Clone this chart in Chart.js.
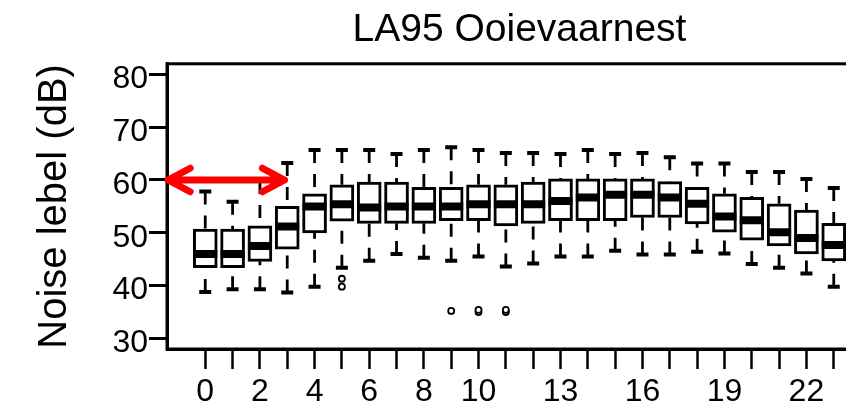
<!DOCTYPE html>
<html>
<head>
<meta charset="utf-8">
<title>LA95 Ooievaarnest</title>
<script src="https://cdn.jsdelivr.net/npm/chart.js@4.4.1/dist/chart.umd.min.js"></script>
<style>
  html, body { margin: 0; padding: 0; background: #fff; overflow: hidden; }
  #wrap { width: 846px; height: 406px; overflow: hidden; }
  #chart { display: block; }
</style>
</head>
<body>
<div id="wrap"><canvas id="chart" width="872" height="406"></canvas></div>
<script>
// hourly LA95 distribution, one box per hour of the day
const hours = [0, 1, 2, 3, 4, 5, 6, 7, 8, 9, 10, 11, 12, 13, 14, 15, 16, 17, 18, 19, 20, 21, 22, 23];
const hourLabels = ['0', '', '2', '', '4', '', '6', '', '8', '', '10', '', '', '13', '', '', '16', '', '', '19', '', '', '22', ''];

const whiskerHigh = [57.8, 55.9, 59.8, 63.2, 65.7, 65.7, 65.7, 64.9, 65.7, 66.2, 65.7, 65.1,
                     65.1, 64.9, 65.7, 64.9, 65.1, 64.3, 63.1, 63.1, 61.5, 61.5, 60.2, 58.5];
const boxHigh = [50.7, 50.7, 51.3, 55.0, 57.4, 59.1, 59.6, 59.6, 58.6, 58.6, 59.1, 59.1,
                 59.6, 60.2, 60.2, 60.2, 60.2, 59.7, 58.6, 57.4, 56.7, 55.5, 54.3, 51.8];
const medians = [46.0, 46.0, 47.5, 51.2, 55.0, 55.4, 54.8, 55.0, 55.0, 55.0, 55.4, 55.4,
                 55.4, 56.0, 56.7, 57.2, 57.2, 56.7, 55.5, 53.1, 52.4, 50.1, 49.0, 47.7];
const boxLow = [43.4, 43.4, 44.6, 46.9, 50.0, 52.2, 51.8, 51.8, 51.8, 52.3, 52.3, 51.3,
                51.8, 52.3, 52.3, 52.3, 52.9, 52.9, 51.7, 50.1, 48.6, 47.5, 46.0, 44.7];
const whiskerLow = [38.8, 39.3, 39.3, 38.7, 39.8, 43.4, 44.7, 46.0, 45.3, 44.7, 45.5, 43.6,
                    44.2, 45.5, 45.5, 46.6, 45.9, 45.9, 46.4, 46.1, 44.1, 43.4, 42.3, 39.8];

const outlierHours = [5, 5, 9, 10, 10, 11, 11];
const outlierValues = [41.3, 39.8, 35.2, 35.0, 35.4, 35.0, 35.4];

const yTicks = [30, 40, 50, 60, 70, 80];

// red double arrow marking the night hours
const arrowHours = [-1.36, 2.9];
const arrowLevel = 60;

const FONT = "'Liberation Sans', Arial, sans-serif";

const boxData = hours.map((h, i) => ({ x: h, y: [boxLow[i], boxHigh[i]] }));
const medianData = hours.map((h, i) => ({ x: h, y: medians[i] }));
const capData = hours.flatMap((h, i) => [
  { x: h, y: whiskerHigh[i] },
  { x: h, y: whiskerLow[i] }
]);
// whiskers run from the cap back to the box edge, null breaks the line
const whiskerData = hours.flatMap((h, i) => [
  { x: h, y: whiskerHigh[i] }, { x: h, y: boxHigh[i] }, { x: h, y: null },
  { x: h, y: whiskerLow[i] }, { x: h, y: boxLow[i] }, { x: h, y: null }
]);
const outlierData = outlierHours.map((h, i) => ({ x: h, y: outlierValues[i] }));

const framePlugin = {
  id: 'frame',
  beforeDatasetsDraw(chart) {
    const { ctx, chartArea: a } = chart;
    ctx.save();
    ctx.strokeStyle = '#000';
    ctx.lineWidth = 3;
    ctx.strokeRect(a.left, a.top, a.right - a.left, a.bottom - a.top);
    ctx.restore();
  }
};

const arrowPlugin = {
  id: 'arrow',
  afterDatasetsDraw(chart) {
    const { ctx, scales: { x, y } } = chart;
    const x0 = x.getPixelForValue(arrowHours[0]);
    const x1 = x.getPixelForValue(arrowHours[1]);
    const py = y.getPixelForValue(arrowLevel);
    const len = 25;
    const ang = 28 * Math.PI / 180;
    const dx = len * Math.cos(ang);
    const dy = len * Math.sin(ang);

    ctx.save();
    ctx.strokeStyle = '#ff0000';
    ctx.lineWidth = 7;
    ctx.lineCap = 'round';
    ctx.lineJoin = 'round';
    ctx.beginPath();
    ctx.moveTo(x0, py);
    ctx.lineTo(x1, py);
    ctx.moveTo(x0 + dx, py - dy);
    ctx.lineTo(x0, py);
    ctx.lineTo(x0 + dx, py + dy);
    ctx.moveTo(x1 - dx, py - dy);
    ctx.lineTo(x1, py);
    ctx.lineTo(x1 - dx, py + dy);
    ctx.stroke();
    ctx.restore();
  }
};

new Chart(document.getElementById('chart'), {
  type: 'bar',
  data: {
    datasets: [
      {
        type: 'scatter',
        data: medianData,
        order: 0,
        pointStyle: 'line',
        pointRadius: 12,
        pointBorderWidth: 8,
        pointBorderColor: '#000'
      },
      {
        type: 'scatter',
        data: outlierData,
        order: 0,
        pointStyle: 'circle',
        pointRadius: 3,
        pointBorderWidth: 1.8,
        pointBorderColor: '#000',
        pointBackgroundColor: '#fff'
      },
      {
        type: 'bar',
        data: boxData,
        order: 1,
        backgroundColor: '#fff',
        borderColor: '#000',
        borderWidth: 3,
        borderSkipped: false,
        barThickness: 24
      },
      {
        type: 'line',
        data: whiskerData,
        order: 2,
        borderColor: '#000',
        borderWidth: 2.8,
        borderDash: [13, 11],
        borderCapStyle: 'butt',
        pointRadius: 0,
        spanGaps: false,
        fill: false,
        tension: 0
      },
      {
        type: 'scatter',
        data: capData,
        order: 2,
        pointStyle: 'line',
        pointRadius: 6,
        pointBorderWidth: 4,
        pointBorderColor: '#000'
      }
    ]
  },
  options: {
    responsive: false,
    devicePixelRatio: 1,
    animation: false,
    events: [],
    layout: { padding: 0, autoPadding: false },
    plugins: {
      legend: { display: false },
      tooltip: { enabled: false },
      title: {
        display: true,
        text: 'LA95 Ooievaarnest',
        color: '#000',
        fullSize: false,
        font: { family: FONT, size: 39, weight: 'normal' },
        padding: { top: 7, bottom: 10 }
      }
    },
    scales: {
      x: {
        type: 'linear',
        min: -1.4,
        max: 24.4,
        offset: false,
        afterBuildTicks: (scale) => { scale.ticks = hours.map(h => ({ value: h })); },
        afterFit: (scale) => { scale.height = 57; },
        grid: {
          offset: false,
          drawOnChartArea: false,
          tickLength: 20,
          tickWidth: 2.5,
          tickColor: '#000'
        },
        border: { display: true, color: '#000', width: 3 },
        ticks: {
          autoSkip: false,
          maxRotation: 0,
          minRotation: 0,
          padding: 4,
          color: '#000',
          font: { family: FONT, size: 32 },
          callback: (value) => hourLabels[hours.indexOf(value)] || ''
        }
      },
      y: {
        type: 'linear',
        min: 28,
        max: 82,
        afterBuildTicks: (scale) => { scale.ticks = yTicks.map(v => ({ value: v })); },
        afterFit: (scale) => { scale.width = 167; },
        grid: {
          drawOnChartArea: false,
          tickLength: 18,
          tickWidth: 3,
          tickColor: '#000'
        },
        border: { display: true, color: '#000', width: 3 },
        ticks: {
          padding: 1,
          labelOffset: 5,
          color: '#000',
          font: { family: FONT, size: 32 }
        },
        title: {
          display: true,
          text: 'Noise lebel (dB)',
          color: '#000',
          font: { family: FONT, size: 40 },
          padding: { top: 31, bottom: 0 }
        }
      }
    }
  },
  plugins: [framePlugin, arrowPlugin]
});
</script>
</body>
</html>
